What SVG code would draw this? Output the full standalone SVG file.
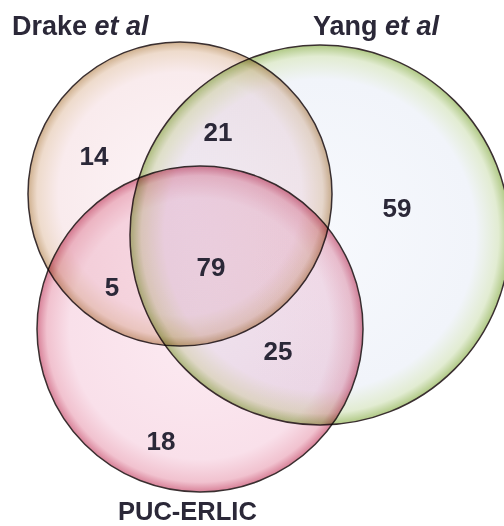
<svg xmlns="http://www.w3.org/2000/svg" width="504" height="526" viewBox="0 0 504 526">
<defs>
<radialGradient id="gDrake" cx="0.5" cy="0.5" r="0.5">
<stop offset="0" stop-color="#fdf4f7"/>
<stop offset="0.8" stop-color="#f9ebed"/>
<stop offset="0.94" stop-color="#eedbcc"/>
<stop offset="1" stop-color="#cfb08e"/>
</radialGradient>
<radialGradient id="gYang" cx="0.5" cy="0.5" r="0.5">
<stop offset="0" stop-color="#f7f9fd"/>
<stop offset="0.82" stop-color="#f1f4fa"/>
<stop offset="0.94" stop-color="#e2ecd2"/>
<stop offset="1" stop-color="#b0c985"/>
</radialGradient>
<radialGradient id="gPuc" cx="0.5" cy="0.5" r="0.5">
<stop offset="0" stop-color="#fcebf2"/>
<stop offset="0.8" stop-color="#f9e0ea"/>
<stop offset="0.94" stop-color="#f1c2cf"/>
<stop offset="1" stop-color="#d88198"/>
</radialGradient>
</defs>
<style>
.c{mix-blend-mode:multiply;stroke:#3a2f30;stroke-width:1.5}
.lab{font-family:"Liberation Sans",Arial,sans-serif;font-weight:bold;fill:#2b2838}
.num{font-family:"Liberation Sans",Arial,sans-serif;font-weight:bold;font-size:26px;fill:#2b2838;text-anchor:middle}
</style>
<rect width="504" height="526" fill="#ffffff"/>
<g id="circles">
<g id="drake"><circle class="c" cx="180" cy="194" r="152" fill="url(#gDrake)"/></g>
<g id="yang"><circle class="c" cx="320" cy="235" r="190" fill="url(#gYang)"/></g>
<g id="puc"><circle class="c" cx="200" cy="329" r="163" fill="url(#gPuc)"/></g>
</g>
<g id="labels">
<text class="lab" x="12" y="35" font-size="27">Drake <tspan font-style="italic">et al</tspan></text>
<text class="lab" x="313" y="35" font-size="27">Yang <tspan font-style="italic">et al</tspan></text>
<text class="lab" x="118" y="520" font-size="25.5">PUC-ERLIC</text>
</g>
<g id="numbers">
<text class="num" x="94" y="165">14</text>
<text class="num" x="218" y="141">21</text>
<text class="num" x="397" y="217">59</text>
<text class="num" x="211" y="276">79</text>
<text class="num" x="112" y="296">5</text>
<text class="num" x="278" y="360">25</text>
<text class="num" x="161" y="450">18</text>
</g>
</svg>
